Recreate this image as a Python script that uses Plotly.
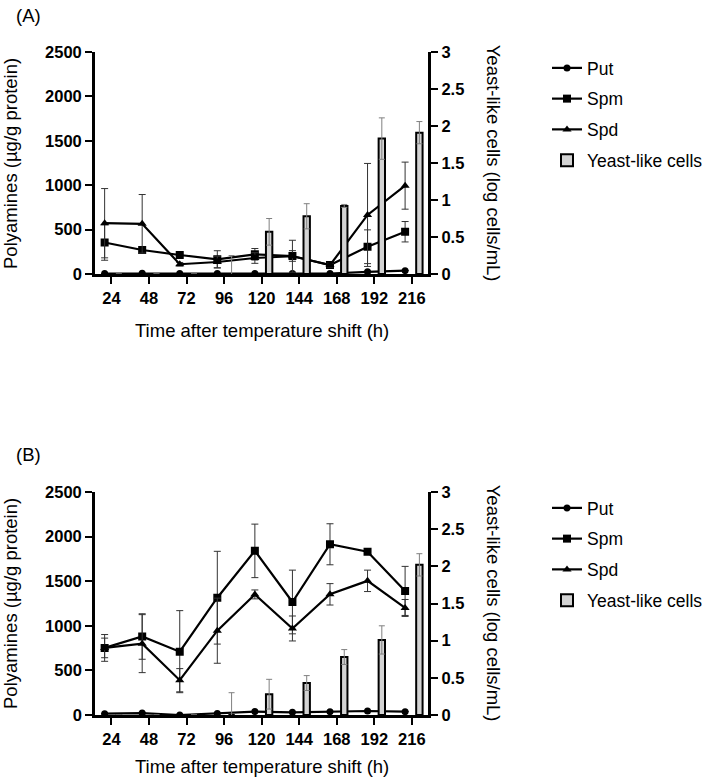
import plotly.graph_objects as go

# ---------------- data ----------------
hours = [24, 48, 72, 96, 120, 144, 168, 192, 216]

# Panel A
put_a = [5, 8, 5, 5, 5, 5, 5, 25, 38]
put_a_err = [0, 0, 0, 0, 0, 0, 0, 0, 0]
spm_a = [355, 270, 214, 165, 222, 203, 101, 307, 476]
spm_a_err = [200, 20, 20, 97, 65, 60, 20, 190, 115]
spd_a = [572, 565, 110, 135, 180, 200, 100, 665, 995]
spd_a_err = [390, 330, 20, 65, 60, 180, 20, 580, 265]
yeast_a = [0, 0, 0, 0, 0.57, 0.78, 0.92, 1.83, 1.91]
yeast_a_err = [0, 0, 0, 0.25, 0.18, 0.17, 0.02, 0.28, 0.15]

# Panel B
put_b = [15, 22, 0, 18, 38, 30, 37, 45, 37]
put_b_err = [0, 0, 0, 0, 0, 0, 0, 0, 0]
spm_b = [752, 880, 710, 1315, 1840, 1267, 1914, 1831, 1391]
spm_b_err = [150, 255, 460, 520, 300, 357, 230, 30, 275]
spd_b = [752, 800, 390, 945, 1352, 970, 1353, 1504, 1200]
spd_b_err = [110, 325, 130, 365, 50, 140, 120, 120, 95]
yeast_b = [0, 0, 0, 0, 0.28, 0.43, 0.78, 1.01, 2.02]
yeast_b_err = [0, 0, 0, 0.3, 0.2, 0.1, 0.1, 0.19, 0.15]

left_ticks = [0, 500, 1000, 1500, 2000, 2500]
right_ticks = [0, 0.5, 1, 1.5, 2, 2.5, 3]

# ---------------- figure ----------------
FONT = "Liberation Sans, Arial, sans-serif"
W, H = 708, 778
pos = list(range(len(hours)))
line_x = [p - 0.18 for p in pos]
bar_x = [p + 0.2 for p in pos]


def px_x(v):
    return v / W


def px_y(v):
    return 1 - v / H


fig = go.Figure()

panels = [
    dict(xa="x", ya="y", yb="y2", leg="legend", put=put_a, pute=put_a_err,
         spm=spm_a, spme=spm_a_err, spd=spd_a, spde=spd_a_err,
         ye=yeast_a, yee=yeast_a_err, tag="A"),
    dict(xa="x2", ya="y3", yb="y4", leg="legend2", put=put_b, pute=put_b_err,
         spm=spm_b, spme=spm_b_err, spd=spd_b, spde=spd_b_err,
         ye=yeast_b, yee=yeast_b_err, tag="B"),
]

for p in panels:
    series = [("Put", p["put"], p["pute"], "circle", 7),
              ("Spm", p["spm"], p["spme"], "square", 8),
              ("Spd", p["spd"], p["spde"], "triangle-up", 8)]
    for name, vals, errs, sym, sz in series:
        fig.add_trace(go.Scatter(
            x=line_x, y=vals, name=name, mode="lines+markers",
            xaxis=p["xa"], yaxis=p["ya"], legend=p["leg"],
            legendgroup=p["tag"] + name,
            line=dict(color="black", width=2.2),
            marker=dict(symbol=sym, size=sz, color="black"),
            error_y=dict(type="data", array=errs, visible=True,
                         color="#333333", thickness=1, width=3.5),
        ))
    fig.add_trace(go.Bar(
        x=bar_x, y=p["ye"], name="Yeast-like cells", width=0.17,
        xaxis=p["xa"], yaxis=p["yb"], legend=p["leg"],
        legendgroup=p["tag"] + "yeast",
        marker=dict(color="#d3d3d3", line=dict(color="black", width=2)),
        error_y=dict(type="data", array=p["yee"], visible=True,
                     color="#808080", thickness=1, width=3),
    ))

x_dom = [px_x(95), px_x(429)]
ydom_a = [px_y(274), px_y(52)]
ydom_b = [px_y(715), px_y(492)]

tickfont = dict(family=FONT, size=16.5, color="black", weight="bold")
common_axis = dict(showline=True, linecolor="black", linewidth=2.5,
                   ticks="outside", ticklen=7, tickwidth=2, tickcolor="black",
                   showgrid=False, zeroline=False, tickfont=tickfont,
                   automargin=False)

xcommon = dict(range=[-0.44, 8.44], tickmode="array", tickvals=pos,
               ticktext=[str(h) for h in hours], domain=x_dom, **common_axis)
left_common = dict(range=[0, 2500], tickmode="array", tickvals=left_ticks,
                   ticktext=[str(v) for v in left_ticks], **common_axis)
right_common = dict(range=[0, 3], tickmode="array", tickvals=right_ticks,
                    ticktext=[f"{v:g}" for v in right_ticks], side="right",
                    **common_axis)

legend_common = dict(font=dict(family=FONT, size=17.5, color="black"),
                     bgcolor="rgba(0,0,0,0)", xanchor="left", yanchor="top",
                     itemwidth=30, tracegroupgap=5, traceorder="grouped")

fig.update_layout(
    template="none",
    width=W, height=H, autosize=False,
    margin=dict(l=0, r=0, t=0, b=0, pad=0),
    paper_bgcolor="white", plot_bgcolor="white",
    font=dict(family=FONT, color="black"),
    barmode="overlay",
    xaxis=dict(anchor="y", **xcommon),
    yaxis=dict(anchor="x", domain=ydom_a, **left_common),
    yaxis2=dict(anchor="x", overlaying="y", **right_common),
    xaxis2=dict(anchor="y3", **xcommon),
    yaxis3=dict(anchor="x2", domain=ydom_b, **left_common),
    yaxis4=dict(anchor="x2", overlaying="y3", **right_common),
    legend=dict(x=px_x(548), y=px_y(50), **legend_common),
    legend2=dict(x=px_x(548), y=px_y(490), **legend_common),
    showlegend=True,
)

ann_font = dict(family=FONT, size=18.5, color="black")
annotations = []
for off, tag, tt in [(0, "(A)", 330), (440, "(B)", 766)]:
    annotations += [
        dict(text=tag, x=px_x(29), y=px_y(15 + off), xref="paper", yref="paper",
             showarrow=False, font=ann_font, xanchor="center", yanchor="middle"),
        dict(text="Time after temperature shift (h)", x=px_x(262), y=px_y(tt),
             xref="paper", yref="paper", showarrow=False, font=ann_font,
             xanchor="center", yanchor="middle"),
        dict(text="Polyamines (µg/g protein)", x=px_x(10), y=px_y(163 + off),
             xref="paper", yref="paper", showarrow=False, font=ann_font,
             textangle=-90, xanchor="center", yanchor="middle"),
        dict(text="Yeast-like cells (log cells/mL)", x=px_x(495), y=px_y(163 + off),
             xref="paper", yref="paper", showarrow=False, font=ann_font,
             textangle=90, xanchor="center", yanchor="middle"),
    ]
fig.update_layout(annotations=annotations)

fig.write_html("out.html", config={"displayModeBar": False},
               post_script="document.body.style.margin='0';")
